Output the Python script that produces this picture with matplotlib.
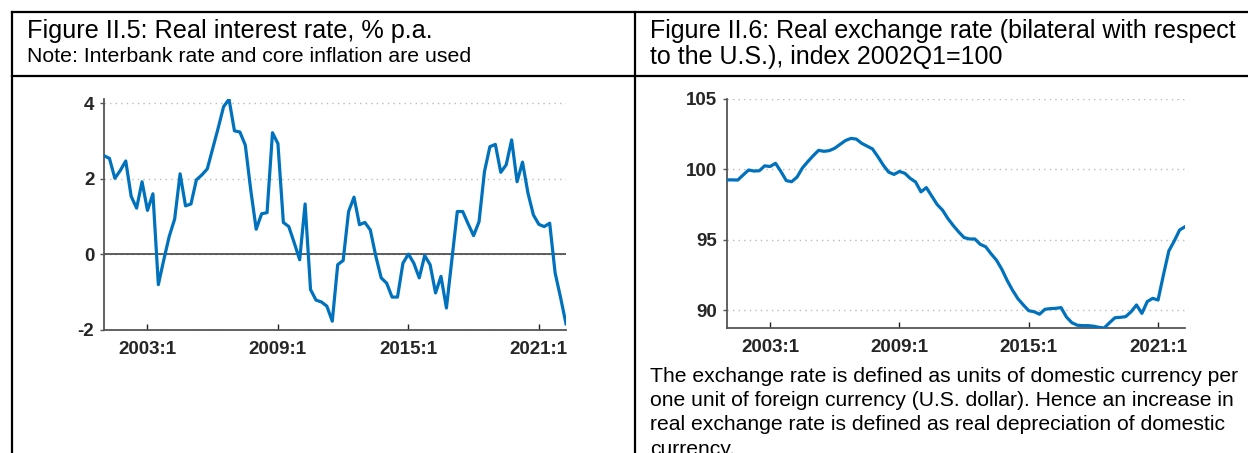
import numpy as np
import matplotlib
matplotlib.use('Agg')
import matplotlib.pyplot as plt
from matplotlib.lines import Line2D

plt.rcParams['font.family'] = ['Liberation Sans', 'DejaVu Sans']
plt.rcParams['axes.unicode_minus'] = False

# quarterly data, 2001Q1 .. 2022Q2
start_year = 2001
real_rate = [2.61, 2.54, 2.01, 2.22, 2.47, 1.53, 1.22, 1.92, 1.16, 1.60,
             -0.81, -0.15, 0.47, 0.93, 2.13, 1.28, 1.33, 1.97, 2.10, 2.26,
             2.80, 3.34, 3.91, 4.11, 3.27, 3.24, 2.89, 1.70, 0.66, 1.07,
             1.10, 3.22, 2.93, 0.84, 0.73, 0.30, -0.15, 1.33, -0.94, -1.22,
             -1.27, -1.38, -1.78, -0.28, -0.17, 1.13, 1.51, 0.78, 0.84, 0.64,
             -0.05, -0.63, -0.77, -1.14, -1.14, -0.24, 0.00, -0.24, -0.63, -0.04,
             -0.28, -1.03, -0.59, -1.43, -0.15, 1.13, 1.13, 0.80, 0.49, 0.86,
             2.19, 2.85, 2.91, 2.17, 2.37, 3.03, 1.92, 2.44, 1.62, 1.04,
             0.79, 0.73, 0.82, -0.50, -1.15, -1.85]

rer_index = [99.25, 99.25, 99.24, 99.6, 99.95, 99.88, 99.9, 100.25, 100.2, 100.43,
             99.85, 99.2, 99.12, 99.45, 100.1, 100.55, 100.97, 101.35, 101.28, 101.33,
             101.5, 101.78, 102.05, 102.2, 102.15, 101.85, 101.65, 101.45, 100.9, 100.3,
             99.8, 99.64, 99.85, 99.72, 99.36, 99.1, 98.4, 98.7, 98.1, 97.5,
             97.1, 96.5, 96.0, 95.55, 95.15, 95.05, 95.05, 94.67, 94.5, 94.0,
             93.55, 92.9, 92.1, 91.4, 90.8, 90.36, 89.95, 89.88, 89.7, 90.05,
             90.1, 90.12, 90.17, 89.5, 89.1, 88.92, 88.89, 88.89, 88.85, 88.77,
             88.72, 89.1, 89.45, 89.48, 89.53, 89.88, 90.36, 89.76, 90.6, 90.83,
             90.71, 92.5, 94.2, 94.9, 95.69, 95.92]

tick_years = [2003, 2009, 2015, 2021]
tick_labels = ['2003:1', '2009:1', '2015:1', '2021:1']

title_left = 'Figure II.5: Real interest rate, % p.a.'
note_left = 'Note: Interbank rate and core inflation are used'
title_right = ['Figure II.6: Real exchange rate (bilateral with respect',
               'to the U.S.), index 2002Q1=100']
note_right = ['The exchange rate is defined as units of domestic currency per',
              'one unit of foreign currency (U.S. dollar). Hence an increase in',
              'real exchange rate is defined as real depreciation of domestic',
              'currency.']

W, H = 1248, 453
line_blue = '#0072BD'
axis_gray = '#555555'

fig = plt.figure(figsize=(W / 100, H / 100), dpi=100)


def px_axes(x0, y0, x1, y1):
    return fig.add_axes([x0 / W, 1 - y1 / H, (x1 - x0) / W, (y1 - y0) / H])


def style(ax, yticks):
    t = start_year + 0.25 * np.arange(86)
    ax.set_xlim(t[0], t[-1])
    ax.set_xticks(tick_years)
    ax.set_xticklabels(tick_labels)
    ax.set_yticks(yticks)
    for s in ['top', 'right']:
        ax.spines[s].set_visible(False)
    for s in ['left', 'bottom']:
        ax.spines[s].set_color(axis_gray)
        ax.spines[s].set_linewidth(1.3)
    ax.tick_params(axis='x', direction='in', length=4, width=1, color='#222222',
                   labelsize=13.5, pad=8)
    ax.tick_params(axis='y', direction='out', length=3, width=1, color=axis_gray,
                   labelsize=13.5, pad=4)
    for lab in ax.get_xticklabels() + ax.get_yticklabels():
        lab.set_fontweight('bold')
        lab.set_color('#262626')
    ax.grid(axis='y', linestyle=(0, (1, 3)), color='#bbbbbb', linewidth=1)
    ax.set_axisbelow(True)
    return t


# left chart
ax1 = px_axes(104, 98.8, 566, 329.5)
t = style(ax1, [-2, 0, 2, 4])
ax1.set_ylim(-2, 4.12)
ax1.axhline(0, color='#444444', linewidth=1.2, zorder=1)
ax1.plot(t, real_rate, color=line_blue, linewidth=2.3, zorder=3)

# right chart
ax2 = px_axes(727, 99, 1185, 328.3)
t = style(ax2, [90, 95, 100, 105])
ax2.set_ylim(88.7, 105)
ax2.plot(t, rer_index, color=line_blue, linewidth=2.3, zorder=3)

# table borders
lw = 1.6
fig.add_artist(Line2D([12 / W, 12 / W], [0, 1 - 12 / H], color='black', lw=lw))
fig.add_artist(Line2D([12 / W, 1], [1 - 12 / H, 1 - 12 / H], color='black', lw=lw))
fig.add_artist(Line2D([12 / W, 1], [1 - 76 / H, 1 - 76 / H], color='black', lw=lw))
fig.add_artist(Line2D([635 / W, 635 / W], [0, 1 - 12 / H], color='black', lw=lw))

# texts
fig.text(27 / W, 1 - 31 / H, title_left, fontsize=18.2, va='center', ha='left')
fig.text(27 / W, 1 - 57 / H, note_left, fontsize=15.3, va='center', ha='left')
for k, line in enumerate(title_right):
    fig.text(650 / W, 1 - (31 + 26 * k) / H, line, fontsize=18.0,
             va='center', ha='left')
for k, line in enumerate(note_right):
    fig.text(650 / W, 1 - (376 + 24.5 * k) / H, line, fontsize=15.2,
             va='center', ha='left')

fig.savefig('out.png', dpi=100)
